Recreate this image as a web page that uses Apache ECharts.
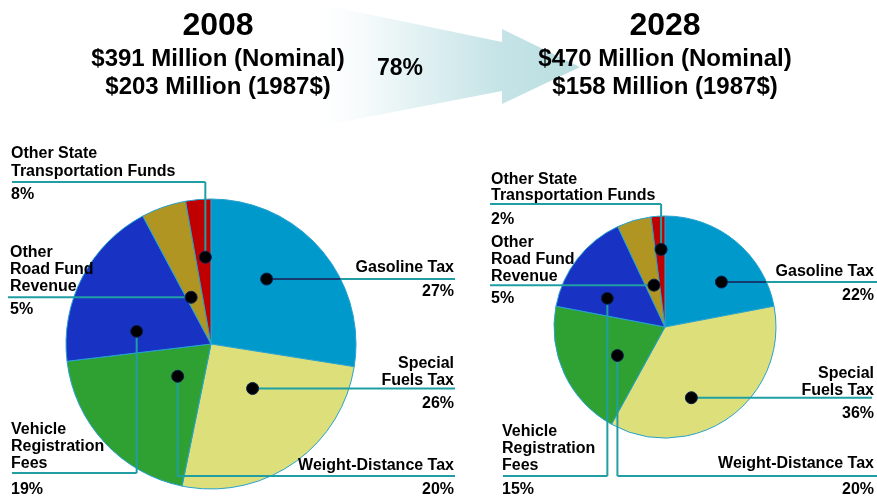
<!DOCTYPE html>
<html>
<head>
<meta charset="utf-8">
<script src="https://cdn.jsdelivr.net/npm/echarts@6/dist/echarts.min.js"></script>
<style>
html, body { margin: 0; padding: 0; background: #fff; }
#main { width: 877px; height: 498px; }
</style>
</head>
<body>
<div id="main"></div>
<script>
// revenue sources, clockwise from 12 o'clock
var categories = ['Gasoline Tax', 'Special Fuels Tax', 'Weight-Distance Tax',
                  'Vehicle Registration Fees', 'Other Road Fund Revenue', 'Other State Transportation Funds'];
var nameLines = [['Gasoline Tax'], ['Special', 'Fuels Tax'], ['Weight-Distance Tax'],
                 ['Vehicle', 'Registration', 'Fees'], ['Other', 'Road Fund', 'Revenue'],
                 ['Other State', 'Transportation Funds']];

// wedge sizes as drawn
var shares2008 = [27.5, 25.7, 19.9, 19.1, 5.0, 2.8];
var shares2028 = [22, 36, 20, 15, 5, 2];
// percentages as printed on the labels
var pct2008 = ['27%', '26%', '20%', '19%', '5%', '8%'];
var pct2028 = ['22%', '36%', '20%', '15%', '5%', '2%'];

var years = ['2008', '2028'];
var nominal = ['$391 Million (Nominal)', '$470 Million (Nominal)'];
var constant = ['$203 Million (1987$)', '$158 Million (1987$)'];
var growth = '78%';

var colors = ['#0099cc', '#dde07a', '#2ea132', '#1833c4', '#b09523', '#c00000'];
var teal = '#1f9fa3';
var font = '"Liberation Sans", Arial, sans-serif';

var myChart = echarts.init(document.getElementById('main'));

// label layout for each pie: dot position inside the wedge (f = fraction of wedge angle,
// rf = fraction of radius), leader route and text anchors
var pies = [
    {
        cx: 211, cy: 344, r: 145, shares: shares2008, pct: pct2008, hx: 218,
        spec: [
            {f: .41, rf: .59, route: 'h', xEnd: 455, align: 'right', tx: 454, names: [266], py: 290, inner: '#143a70'},
            {f: .41, rf: .42, route: 'h', xEnd: 455, align: 'right', tx: 454, names: [362, 379], py: 402},
            {f: .48, rf: .32, route: 'v', ly: 476, xEnd: 455, align: 'right', tx: 454, names: [464], py: 488},
            {f: .24, rf: .52, route: 'v', ly: 473, xEnd: 12, align: 'left', tx: 11, names: [428, 445, 462], py: 488},
            {f: .28, rf: .35, route: 'h', xEnd: 8, align: 'left', tx: 10, names: [251, 268, 285], py: 308},
            {f: .63, rf: .60, route: 'v', ly: 182, xEnd: 12, align: 'left', tx: 11, names: [152, 170], py: 193}
        ]
    },
    {
        cx: 665, cy: 327, r: 111, shares: shares2028, pct: pct2028, hx: 665,
        spec: [
            {f: .65, rf: .65, route: 'h', xEnd: 877, align: 'right', tx: 874, names: [270], py: 294, inner: '#143a70'},
            {f: .62, rf: .68, route: 'h', xEnd: 872, align: 'right', tx: 874, names: [372, 389], py: 412},
            {f: .42, rf: .50, route: 'v', ly: 476, xEnd: 877, align: 'right', tx: 874, names: [462], py: 488},
            {f: .29, rf: .58, route: 'v', ly: 476, xEnd: 503, align: 'left', tx: 502, names: [430, 447, 464], py: 488},
            {f: .58, rf: .39, route: 'h', xEnd: 490, align: 'left', tx: 491, names: [241, 258, 275], py: 297},
            {f: .60, rf: .70, route: 'v', ly: 204, xEnd: 490, align: 'left', tx: 491, names: [178, 194], py: 218}
        ]
    }
];

// y is the middle of the capitals; 'middle' sits a touch high for this font
function txt(x, y, s, size, align) {
    return {
        type: 'text', x: x, y: y + 2, z: 30,
        style: {text: s, fill: '#000', font: 'bold ' + size + 'px ' + font,
                align: align || 'center', verticalAlign: 'middle'}
    };
}
function seg(x1, y1, x2, y2, color) {
    return {type: 'line', z: 20, shape: {x1: x1, y1: y1, x2: x2, y2: y2},
            style: {stroke: color || teal, lineWidth: 2}};
}

var graphics = [];

// growth arrow between the two headers
graphics.push({
    type: 'polygon', z: 1,
    shape: {points: [[300, 0], [502, 42], [502, 29], [580, 67], [502, 104], [502, 91], [300, 130]]},
    style: {
        fill: new echarts.graphic.LinearGradient(0, 0, 1, 0, [
            {offset: 0, color: 'rgba(255,255,255,0)'},
            {offset: 0.3, color: 'rgba(238,247,248,1)'},
            {offset: 0.7, color: '#c6e4e7'},
            {offset: 1, color: '#b9dee1'}
        ])
    }
});
graphics.push(txt(400, 67, growth, 23));

var series = [];
pies.forEach(function (p, k) {
    graphics.push(txt(p.hx, 24, years[k], 32));
    graphics.push(txt(p.hx, 57, nominal[k], 24));
    graphics.push(txt(p.hx, 85, constant[k], 24));

    series.push({
        type: 'pie',
        center: [p.cx, p.cy],
        radius: p.r,
        startAngle: 90,
        clockwise: true,
        silent: true,
        label: {show: false},
        labelLine: {show: false},
        itemStyle: {borderColor: '#27a2cf', borderWidth: 1},
        data: categories.map(function (c, i) {
            return {name: c, value: p.shares[i], itemStyle: {color: colors[i]}};
        })
    });

    var total = p.shares.reduce(function (a, b) { return a + b; }, 0);
    var start = 0;
    p.shares.forEach(function (v, i) {
        var span = v / total * 360;
        var s = p.spec[i];
        var ang = (start + s.f * span) * Math.PI / 180;
        start += span;
        var dx = p.cx + p.r * s.rf * Math.sin(ang);
        var dy = p.cy - p.r * s.rf * Math.cos(ang);

        var ly = dy;
        if (s.route === 'v') {
            ly = s.ly;
            graphics.push(seg(dx, dy, dx, ly));
            graphics.push(seg(dx, ly, s.xEnd, ly));
        } else if (s.inner) {
            var edge = p.cx + Math.sqrt(p.r * p.r - (dy - p.cy) * (dy - p.cy));
            graphics.push(seg(dx, dy, edge, dy, s.inner));
            graphics.push(seg(edge, dy, s.xEnd, dy));
        } else {
            graphics.push(seg(dx, dy, s.xEnd, dy));
        }
        graphics.push({
            type: 'circle', z: 25, shape: {cx: dx, cy: dy, r: 6},
            style: {fill: '#000', stroke: '#0b2050', lineWidth: 1}
        });

        nameLines[i].forEach(function (line, j) {
            graphics.push(txt(s.tx, s.names[j], line, 16, s.align));
        });
        graphics.push(txt(s.tx, s.py, p.pct[i], 16, s.align));
    });
});

var option = {
    backgroundColor: '#fff',
    animation: false,
    series: series,
    graphic: graphics
};
myChart.setOption(option);
</script>
</body>
</html>
